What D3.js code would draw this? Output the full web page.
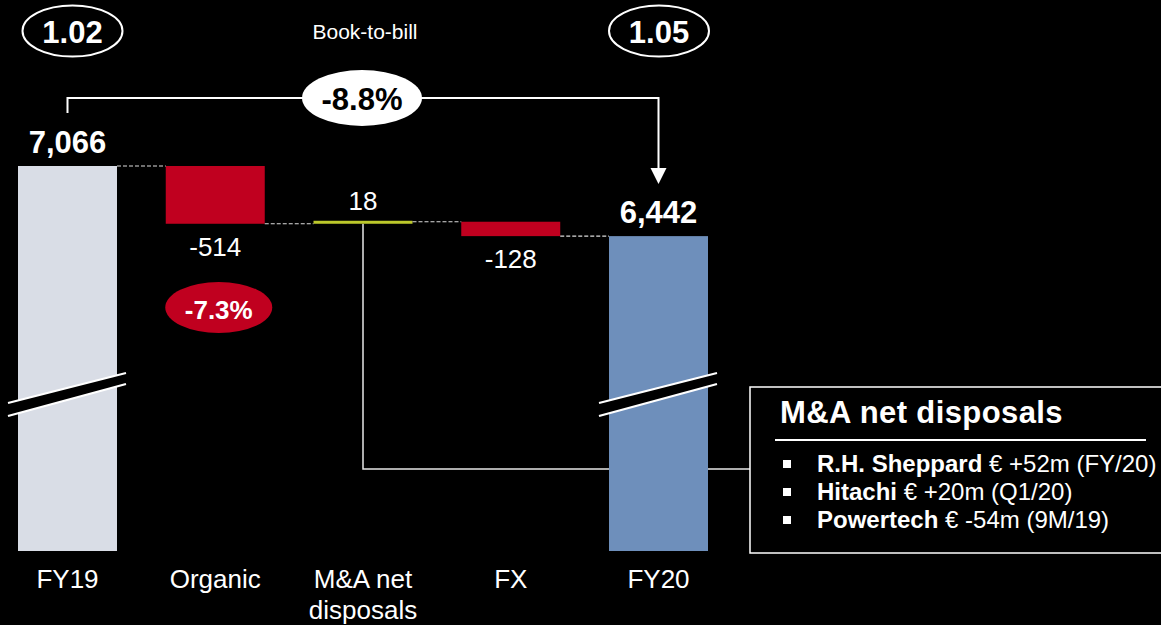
<!DOCTYPE html>
<html><head><meta charset="utf-8">
<script src="https://cdn.jsdelivr.net/npm/d3@7"></script>
<style>
html,body{margin:0;padding:0;background:#000;}
svg{display:block;font-family:"Liberation Sans",Arial,sans-serif;}
</style></head>
<body><svg id="c" width="1161" height="625"></svg>
<script>
// ---- data ----
const categories = ["FY19", "Organic", "M&A net disposals", "FX", "FY20"];
const categoryLines = [["FY19"], ["Organic"], ["M&A net", "disposals"], ["FX"], ["FY20"]];
const values = [7066, -514, 18, -128, 6442];
const kinds = ["total", "delta", "delta", "delta", "total"];
const valueLabels = ["7,066", "-514", "18", "-128", "6,442"];
const barColors = ["#d9dde6", "#c0001f", "#bcc82b", "#c0001f", "#6e8fbb"];
const bookToBillCats = ["FY19", "FY20"];
const bookToBillValues = ["1.02", "1.05"];
const bookToBillTitle = "Book-to-bill";
const totalChangeLabel = "-8.8%";
const organicGrowthLabel = "-7.3%";
const disposalTitle = "M&A net disposals";
const disposalNames = ["R.H. Sheppard", "Hitachi", "Powertech"];
const disposalDetails = ["€ +52m (FY/20)", "€ +20m (Q1/20)", "€ -54m (9M/19)"];
const axisFloor = 3640; // broken axis base

// ---- compute waterfall ----
let run = 0;
const bars = categories.map((c, i) => {
  let y0, y1;
  if (kinds[i] === "total") { y0 = axisFloor; y1 = values[i]; run = values[i]; }
  else { y0 = run; y1 = run + values[i]; run = y1; }
  return {cat: c, i, lo: Math.min(y0, y1), hi: Math.max(y0, y1), start: y0, end: y1, v: values[i], kind: kinds[i]};
});

const svg = d3.select("#c");
const x = d3.scaleBand().domain(categories).range([18, 708]).paddingInner(0.33).paddingOuter(0);
const y = d3.scaleLinear().domain([axisFloor, 7066]).range([551, 166]);
const bw = x.bandwidth();
const cx = c => x(c) + bw / 2;

const white = "#ffffff";

// connector from M&A bar to the box (behind bars)
const maCat = categories[2];
const boxX = 750, boxY = 387, boxH = 166;
svg.append("path")
  .attr("d", `M${cx(maCat)},${y(bars[2].lo)} V469 H${boxX}`)
  .attr("fill", "none").attr("stroke", "#e6e6e6").attr("stroke-width", 1.5);

// bars
svg.selectAll("rect.bar").data(bars).join("rect")
  .attr("class", "bar")
  .attr("x", d => x(d.cat)).attr("width", bw)
  .attr("y", d => Math.min(y(d.hi), y(d.lo) - 3)).attr("height", d => Math.max(3, y(d.lo) - y(d.hi)))
  .attr("fill", (d, i) => barColors[i]);

// dashed connectors between consecutive bars
for (let i = 0; i < bars.length - 1; i++) {
  const lvl = bars[i].kind === "total" ? bars[i].v : bars[i].end;
  svg.append("line")
    .attr("x1", x(categories[i]) + bw).attr("x2", x(categories[i + 1]))
    .attr("y1", y(lvl)).attr("y2", y(lvl))
    .attr("stroke", "#dcdcdc").attr("stroke-width", 1.2).attr("stroke-dasharray", "4,2");
}

// axis break marks on total bars
bars.filter(d => d.kind === "total").forEach(d => {
  const c = cx(d.cat);
  const xl = c - 59.5, xr = c + 58.5;
  svg.append("polygon")
    .attr("points", `${xl},403 ${xr},373 ${xr},384 ${xl},416`)
    .attr("fill", "#000");
  [[403, 373], [416, 384]].forEach(([a, b]) => {
    svg.append("line").attr("x1", xl).attr("y1", a).attr("x2", xr).attr("y2", b)
      .attr("stroke", white).attr("stroke-width", 2.2);
  });
});

// value labels
bars.forEach((d, i) => {
  const t = svg.append("text").attr("x", cx(d.cat)).attr("text-anchor", "middle").attr("fill", white)
    .text(valueLabels[i]);
  if (d.kind === "total") {
    t.attr("y", y(d.hi) - 13).attr("font-size", 31).attr("font-weight", "bold");
  } else if (d.v >= 0) {
    t.attr("y", y(d.hi) - 12).attr("font-size", 26);
  } else {
    t.attr("y", y(d.lo) + 32).attr("font-size", 26);
  }
});

// category labels
categoryLines.forEach((lines, i) => {
  const t = svg.append("text").attr("x", cx(categories[i])).attr("y", 588)
    .attr("text-anchor", "middle").attr("fill", white).attr("font-size", 26);
  lines.forEach((l, j) => t.append("tspan").attr("x", cx(categories[i])).attr("dy", j === 0 ? 0 : 31).text(l));
});

// book-to-bill ellipses
const btbOffsets = [5, 0.5];
bookToBillCats.forEach((c, i) => {
  const ex = cx(c) + btbOffsets[i];
  svg.append("ellipse").attr("cx", ex).attr("cy", 31).attr("rx", 50).attr("ry", 25.5)
    .attr("fill", "none").attr("stroke", white).attr("stroke-width", 2);
  svg.append("text").attr("x", ex).attr("y", 43).attr("text-anchor", "middle")
    .attr("fill", white).attr("font-size", 31).attr("font-weight", "bold").text(bookToBillValues[i]);
});
svg.append("text").attr("x", 365).attr("y", 39).attr("text-anchor", "middle")
  .attr("fill", white).attr("font-size", 21).text(bookToBillTitle);

// bracket with arrow
const fx0 = cx(categories[0]), fx1 = cx(categories[4]);
svg.append("path").attr("d", `M${fx0},113 V98 H${fx1} V170`)
  .attr("fill", "none").attr("stroke", white).attr("stroke-width", 2);
svg.append("path").attr("d", `M${fx1 - 8},168 L${fx1 + 8},168 L${fx1},184 Z`).attr("fill", white);
svg.append("ellipse").attr("cx", 362).attr("cy", 98).attr("rx", 60).attr("ry", 28).attr("fill", white);
svg.append("text").attr("x", 362).attr("y", 110).attr("text-anchor", "middle")
  .attr("fill", "#000").attr("font-size", 31).attr("font-weight", "bold").text(totalChangeLabel);

// organic growth ellipse
const ox = cx(categories[1]) + 3.5;
svg.append("ellipse").attr("cx", ox).attr("cy", 307.5).attr("rx", 53.5).attr("ry", 25.5).attr("fill", "#c0001f");
svg.append("text").attr("x", ox).attr("y", 318.5).attr("text-anchor", "middle")
  .attr("fill", white).attr("font-size", 26).attr("font-weight", "bold").text(organicGrowthLabel);

// disposals box
svg.append("rect").attr("x", boxX).attr("y", boxY).attr("width", 430).attr("height", boxH)
  .attr("fill", "#000").attr("stroke", white).attr("stroke-width", 1.5);
svg.append("text").attr("x", 780).attr("y", 423).attr("fill", white)
  .attr("font-size", 31).attr("font-weight", "bold").attr("letter-spacing", 0.4).text(disposalTitle);
svg.append("line").attr("x1", 775).attr("x2", 1146).attr("y1", 440).attr("y2", 440)
  .attr("stroke", white).attr("stroke-width", 2);
disposalNames.forEach((n, i) => {
  const by = 472 + i * 28;
  svg.append("rect").attr("x", 783).attr("y", by - 12).attr("width", 8).attr("height", 8).attr("fill", white);
  const t = svg.append("text").attr("x", 817).attr("y", by).attr("fill", white).attr("font-size", 24);
  t.append("tspan").attr("font-weight", "bold").text(n + " ");
  t.append("tspan").text(disposalDetails[i]);
});
</script></body></html>
